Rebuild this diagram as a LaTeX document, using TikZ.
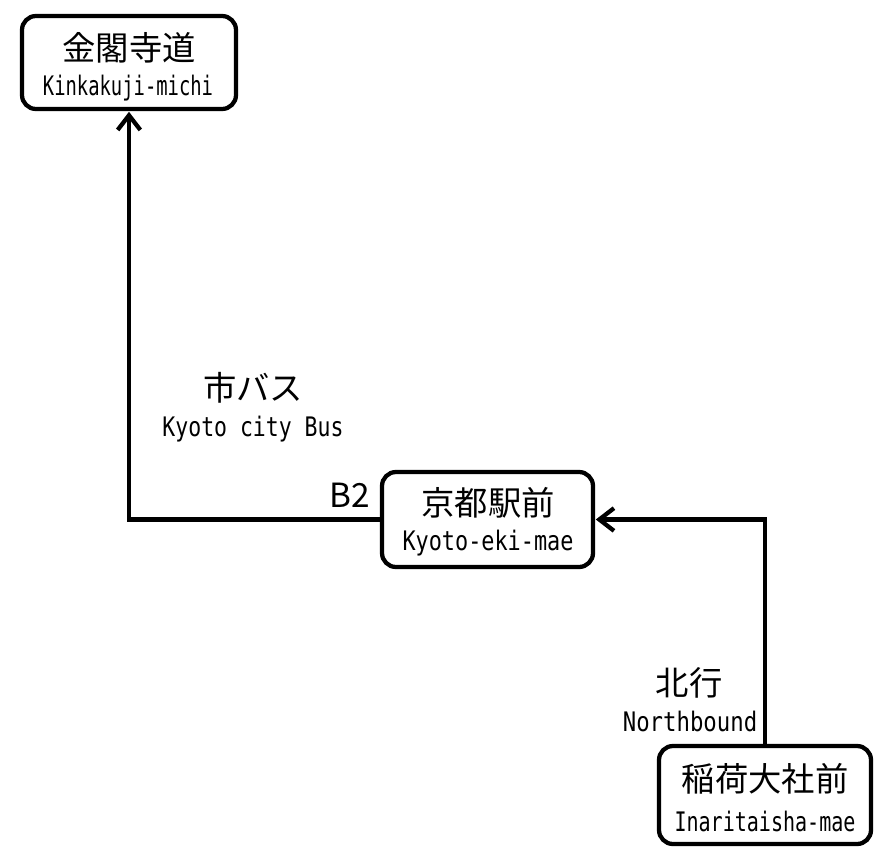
\documentclass[tikz,border=0pt]{standalone}
\usepackage{fontspec}
\usepackage{graphicx}
\newfontfamily\jp{Noto Sans CJK JP}
\setmonofont{DejaVu Sans Mono}
\usetikzlibrary{arrows.meta}
\newcommand\lat[2]{\scalebox{#1}[1.12]{\fontsize{18}{20}\ttfamily #2}}
\tikzset{
  stn/.style={draw, line width=3.2pt, rounded corners=10.5pt, fill=white, inner sep=0pt},
  jt/.style={inner sep=0pt, font=\jp\fontsize{25}{28}\selectfont},
  lt/.style={inner sep=0pt},
  conn/.style={line width=3.2pt, -{Straight Barb[length=11pt,width=17pt,line width=3.2pt]}},
}
\begin{document}
\begin{tikzpicture}[x=0.75pt,y=-0.75pt]
\useasboundingbox (0,0) rectangle (895,863);
\fill[white] (0,0) rectangle (895,863);
% stations
\node[stn, minimum width=160.5pt, minimum height=69.75pt] (kin) at (129,62.5) {};
\node[stn, minimum width=158.25pt, minimum height=71.25pt] (kyo) at (487.5,519.5) {};
\node[stn, minimum width=159pt, minimum height=73.5pt] (ina) at (765,795) {};
% station texts
\node[jt] (kinj) at (129,48) {金閣寺道};
\node[lt] (kinl) at (128,88) {\lat{0.785}{Kinkakuji-michi}};
\node[jt] (kyoj) at (488,503) {京都駅前};
\node[lt] (kyol) at (488,543) {\lat{0.91}{Kyoto-eki-mae}};
\node[jt] (inaj) at (765,779) {稲荷大社前};
\node[lt] (inal) at (765,821) {\lat{0.835}{Inaritaisha-mae}};
% connectors
\draw[conn, shorten >=0.5pt] (kyo.west) -| (kin.south);
\draw[conn, shorten >=0.5pt] (ina.north) |- (kyo.east);
% labels
\node[jt] (busj) at (253,388) {市バス};
\node[lt] (busl) at (253,429) {\lat{0.895}{Kyoto city Bus}};
\node[jt] (b2) at (350,495) {B2};
\node[jt] (nbj) at (689,683) {北行};
\node[lt] (nbl) at (690,721) {\lat{0.93}{Northbound}};
\end{tikzpicture}
\end{document}
